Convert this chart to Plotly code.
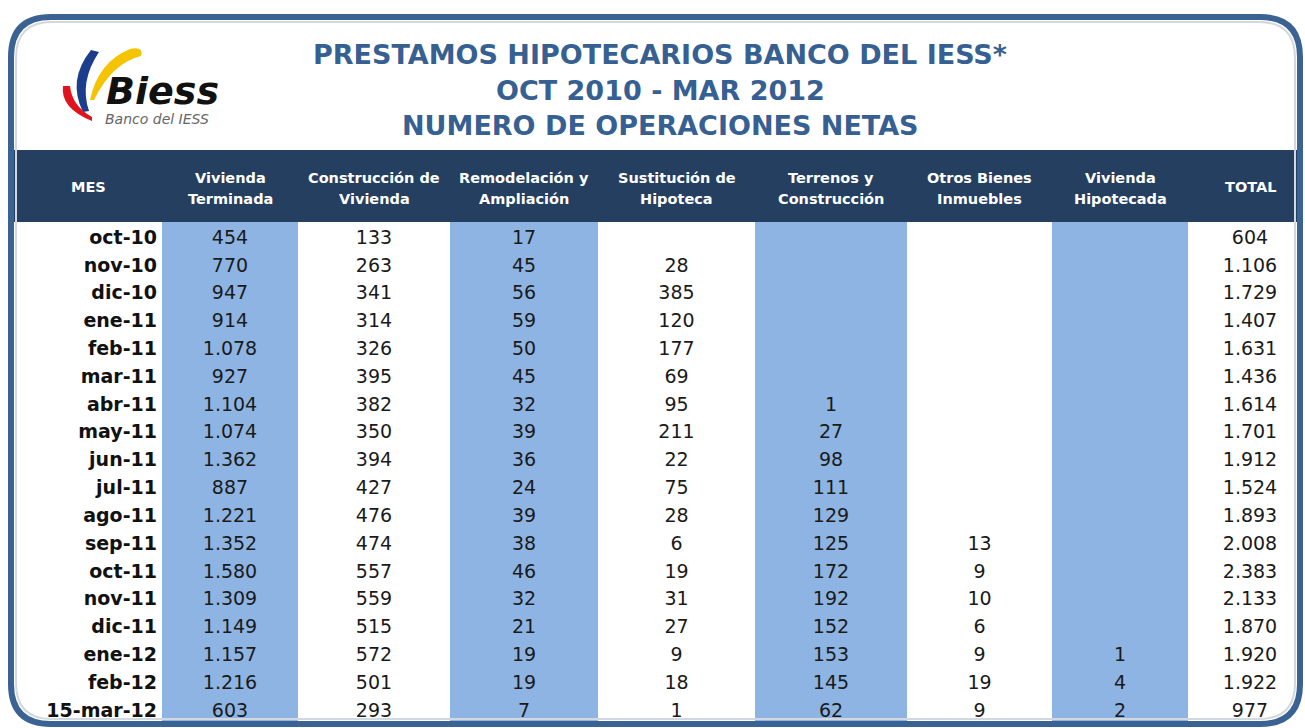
import plotly.graph_objects as go

# ---------------- data ----------------
meses = ["oct-10", "nov-10", "dic-10", "ene-11", "feb-11", "mar-11", "abr-11", "may-11",
         "jun-11", "jul-11", "ago-11", "sep-11", "oct-11", "nov-11", "dic-11", "ene-12",
         "feb-12", "15-mar-12"]
vivienda_terminada = [454, 770, 947, 914, 1078, 927, 1104, 1074, 1362, 887, 1221, 1352, 1580,
                      1309, 1149, 1157, 1216, 603]
construccion_vivienda = [133, 263, 341, 314, 326, 395, 382, 350, 394, 427, 476, 474, 557,
                         559, 515, 572, 501, 293]
remodelacion_ampliacion = [17, 45, 56, 59, 50, 45, 32, 39, 36, 24, 39, 38, 46, 32, 21, 19, 19, 7]
sustitucion_hipoteca = [None, 28, 385, 120, 177, 69, 95, 211, 22, 75, 28, 6, 19, 31, 27, 9, 18, 1]
terrenos_construccion = [None, None, None, None, None, None, 1, 27, 98, 111, 129, 125, 172,
                         192, 152, 153, 145, 62]
otros_bienes = [None] * 11 + [13, 9, 10, 6, 9, 19, 9]
vivienda_hipotecada = [None] * 15 + [1, 4, 2]
total = [604, 1106, 1729, 1407, 1631, 1436, 1614, 1701, 1912, 1524, 1893, 2008, 2383, 2133,
         1870, 1920, 1922, 977]

headers = ["MES", "Vivienda<br>Terminada", "Construcción de<br>Vivienda",
           "Remodelación y<br>Ampliación", "Sustitución de<br>Hipoteca",
           "Terrenos y<br>Construcción", "Otros Bienes<br>Inmuebles",
           "Vivienda<br>Hipotecada", "TOTAL"]

titulo = ["PRESTAMOS HIPOTECARIOS BANCO DEL IESS*", "OCT 2010 - MAR 2012",
          "NUMERO DE OPERACIONES NETAS"]

# ---------------- layout constants ----------------
W, H = 1305, 728
col_edges = [14, 162, 298, 450, 598, 755, 907, 1052, 1188, 1312]   # pixel column edges
blue_cols = [1, 3, 5, 7]
HEADER_TOP, HEADER_BOT = 150, 222
ROW0, ROWSTEP = 239, 27.82

BLUE = "#8db4e2"
HEAD = "#253f60"
TITLE = "#366092"
FONT = "DejaVu Sans"


def fmt(v):
    if v is None:
        return ""
    return f"{v:,}".replace(",", ".")


def px(x):
    return x / W


def py(y):
    return 1 - y / H


def path(cmds):
    out = []
    for c in cmds:
        op = c[0]
        pts = c[1:]
        out.append(op + " " + " ".join(f"{px(pts[i]):.5f},{py(pts[i+1]):.5f}"
                                       for i in range(0, len(pts), 2)))
    return " ".join(out) + " Z"


def rrect(l, t, r, b, rad):
    return path([
        ("M", l + rad, t), ("L", r - rad, t), ("Q", r, t, r, t + rad),
        ("L", r, b - rad), ("Q", r, b, r - rad, b), ("L", l + rad, b),
        ("Q", l, b, l, b - rad), ("L", l, t + rad), ("Q", l, t, l + rad, t)])


centers = [(col_edges[i] + col_edges[i + 1]) / 2 for i in range(len(col_edges) - 1)]
series = [vivienda_terminada, construccion_vivienda, remodelacion_ampliacion,
          sustitucion_hipoteca, terrenos_construccion, otros_bienes,
          vivienda_hipotecada, total]

fig = go.Figure()

# month labels (bold, right aligned in first column)
fig.add_trace(go.Scatter(
    x=[col_edges[1] - 5] * len(meses), y=meses, mode="text",
    text=["<b>" + m + "</b>" for m in meses], textposition="middle left",
    textfont=dict(family=FONT, size=19, color="#111111"),
    hoverinfo="skip", cliponaxis=False))

for ci, serie in enumerate(series, start=1):
    fig.add_trace(go.Scatter(
        x=[centers[ci]] * len(meses), y=meses, mode="text",
        text=[fmt(v) for v in serie], textposition="middle center",
        textfont=dict(family=FONT, size=19, color="#1a1a1a"),
        hoverinfo="skip", cliponaxis=False))

shapes = []
# header band
shapes.append(dict(type="rect", xref="x", yref="paper",
                   x0=col_edges[0], x1=1297, y0=py(HEADER_BOT), y1=py(HEADER_TOP),
                   fillcolor=HEAD, line=dict(width=0), layer="below"))
# blue columns
for ci in blue_cols:
    shapes.append(dict(type="rect", xref="x", yref="paper",
                       x0=col_edges[ci], x1=col_edges[ci + 1],
                       y0=py(724), y1=py(HEADER_BOT),
                       fillcolor=BLUE, line=dict(width=0), layer="below"))
# frame
shapes.append(dict(type="path", xref="paper", yref="paper",
                   path=rrect(11, 17, 1300, 724, 40),
                   line=dict(color="#3a6292", width=6), layer="above"))
shapes.append(dict(type="path", xref="paper", yref="paper",
                   path=rrect(16, 22, 1295, 719, 36),
                   line=dict(color="#d3d8df", width=2), layer="above"))
# logo swooshes
shapes.append(dict(type="path", xref="paper", yref="paper",
                   path=path([("M", 91, 50), ("Q", 67, 80, 83, 112), ("L", 89, 111),
                              ("Q", 79, 82, 99, 52)]),
                   fillcolor="#1c3c8c", line=dict(width=0), layer="above"))
shapes.append(dict(type="path", xref="paper", yref="paper",
                   path=path([("M", 90, 100), ("Q", 98, 62, 130, 49), ("Q", 144, 46, 141, 56),
                              ("Q", 112, 63, 94, 100)]),
                   fillcolor="#f5c400", line=dict(width=0), layer="above"))
shapes.append(dict(type="path", xref="paper", yref="paper",
                   path=path([("M", 63, 86), ("Q", 60, 108, 92, 121), ("L", 92, 117),
                              ("Q", 72, 106, 70, 86)]),
                   fillcolor="#e0141e", line=dict(width=0), layer="above"))

annotations = []
for txt, yy in zip(titulo, [55, 90, 125]):
    annotations.append(dict(text="<b>" + txt + "</b>", x=px(660), y=py(yy),
                            xref="paper", yref="paper", showarrow=False,
                            xanchor="center", yanchor="middle",
                            font=dict(family=FONT, size=27, color=TITLE)))
# column headers
for ci, h in enumerate(headers):
    lines = h.split("<br>")
    ys = [187] if len(lines) == 1 else [178, 199]
    for ln, yy in zip(lines, ys):
        annotations.append(dict(text="<b>" + ln + "</b>", x=centers[ci], y=py(yy),
                                xref="x", yref="paper", showarrow=False,
                                xanchor="center", yanchor="middle",
                                font=dict(family=FONT, size=14.5, color="white")))
# logo text
annotations.append(dict(text="<b><i>Biess</i></b>", x=px(104), y=py(91),
                        xref="paper", yref="paper", showarrow=False,
                        xanchor="left", yanchor="middle",
                        font=dict(family=FONT, size=38, color="#111111")))
annotations.append(dict(text="<i>Banco del IESS</i>", x=px(103), y=py(119),
                        xref="paper", yref="paper", showarrow=False,
                        xanchor="left", yanchor="middle",
                        font=dict(family=FONT, size=14, color="#666666")))

fig.update_layout(
    width=W, height=H, margin=dict(l=0, r=0, t=0, b=0),
    paper_bgcolor="white", plot_bgcolor="rgba(0,0,0,0)",
    xaxis=dict(range=[0, W], visible=False, fixedrange=True),
    yaxis=dict(type="category", categoryorder="array", categoryarray=meses,
               range=[(H - ROW0) / ROWSTEP, -ROW0 / ROWSTEP],
               visible=False, fixedrange=True),
    shapes=shapes, annotations=annotations, showlegend=False,
)

fig.write_html("out.html", config={"displayModeBar": False},
               post_script="document.body.style.margin='0';")
